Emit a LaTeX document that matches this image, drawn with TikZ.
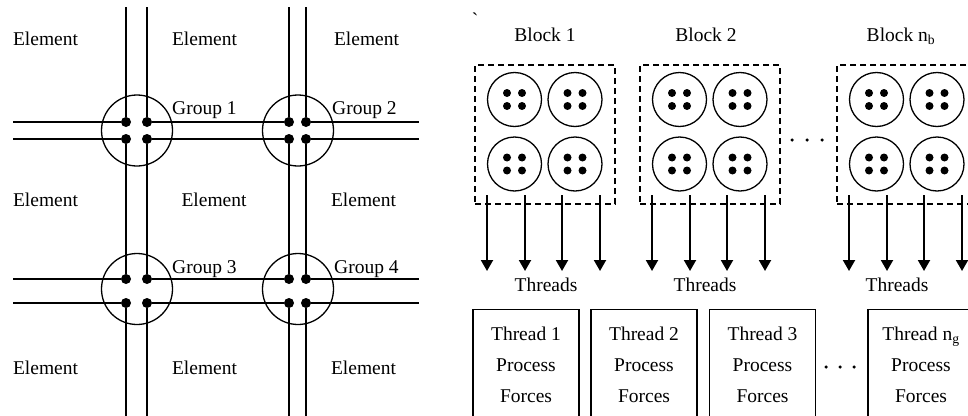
\documentclass[tikz,border=0pt]{standalone}
\usepackage{fontspec}
\setmainfont{Liberation Serif}
\usetikzlibrary{arrows.meta}
\begin{document}
\begin{tikzpicture}[x=1pt,y=-1pt,
  ln/.style={line width=1.3pt},
  jdot/.style={circle,fill,inner sep=0pt,minimum size=10pt},
  grp/.style={circle,draw,line width=1.3pt,inner sep=0pt,minimum size=71pt},
  lbl/.style={anchor=base,inner sep=0pt,font=\fontsize{19.5}{23}\selectfont},
  blk/.style={draw,line width=1.3pt,dash pattern=on 6pt off 4pt,inner sep=0pt,minimum width=140pt,minimum height=139pt},
  cell/.style={circle,draw,line width=1.3pt,inner sep=0pt,minimum size=54pt},
  sdot/.style={circle,fill,inner sep=0pt,minimum size=8pt},
  edot/.style={circle,fill,inner sep=0pt,minimum size=3.5pt},
  arr/.style={line width=2pt,-{Triangle[width=12pt,length=11pt]}},
  tbox/.style={draw,line width=1.3pt,inner sep=0pt,minimum width=106pt,minimum height=120pt,anchor=north}]
\useasboundingbox (0,0) rectangle (968,415);
\clip (0,0) rectangle (968,415);
% ---------- left: groups ----------
\node[grp] (G1) at (137,130.5) {};
\node[grp] (G2) at (298,130.5) {};
\node[grp] (G3) at (137,289) {};
\node[grp] (G4) at (298,289) {};
\foreach \g/\xa/\xb/\ya/\yb in {1/126/147/122/139,2/289/306/122/139,3/126/147/279/303,4/289/306/279/303} {
  \node[jdot] (g\g a) at (\xa,\ya) {};
  \node[jdot] (g\g b) at (\xb,\ya) {};
  \node[jdot] (g\g c) at (\xa,\yb) {};
  \node[jdot] (g\g d) at (\xb,\yb) {};
}
% free ends
\foreach \x/\n in {126/1,147/2,289/3,306/4} {
  \coordinate (top\n) at (\x,7);
  \coordinate (bot\n) at (\x,420);
}
\foreach \y/\n in {122/1,139/2,279/3,303/4} {
  \coordinate (lft\n) at (13,\y);
  \coordinate (rgt\n) at (419,\y);
}
% vertical lines
\draw[ln] (top1) -- (g1a) (g1c) -- (g3a) (g3c) -- (bot1);
\draw[ln] (top2) -- (g1b) (g1d) -- (g3b) (g3d) -- (bot2);
\draw[ln] (top3) -- (g2a) (g2c) -- (g4a) (g4c) -- (bot3);
\draw[ln] (top4) -- (g2b) (g2d) -- (g4b) (g4d) -- (bot4);
% horizontal lines
\draw[ln] (lft1) -- (g1a) (g1b) -- (g2a) (g2b) -- (rgt1);
\draw[ln] (lft2) -- (g1c) (g1d) -- (g2c) (g2d) -- (rgt2);
\draw[ln] (lft3) -- (g3a) (g3b) -- (g4a) (g4b) -- (rgt3);
\draw[ln] (lft4) -- (g3c) (g3d) -- (g4c) (g4d) -- (rgt4);
% labels
\node[lbl,anchor=base west] (lg1) at (172,114.5) {Group 1};
\node[lbl,anchor=base west] (lg2) at (332,114.5) {Group 2};
\node[lbl,anchor=base west] (lg3) at (172,273.5) {Group 3};
\node[lbl,anchor=base west] (lg4) at (334,273.5) {Group 4};
\node[lbl] (e11) at (45.5,45.5) {Element};
\node[lbl] (e12) at (204.5,45.5) {Element};
\node[lbl] (e13) at (366.5,45.5) {Element};
\node[lbl] (e21) at (45.5,206.5) {Element};
\node[lbl] (e22) at (214,206.5) {Element};
\node[lbl] (e23) at (363.5,206.5) {Element};
\node[lbl] (e31) at (45.5,374.5) {Element};
\node[lbl] (e32) at (204.5,374.5) {Element};
\node[lbl] (e33) at (363.5,374.5) {Element};
% ---------- right: blocks ----------
\node[lbl] (tick) at (475,26) {\textasciigrave};
\node[lbl] (bl1) at (545,41.5) {Block 1};
\node[lbl] (bl2) at (706,41.5) {Block 2};
\node[lbl] (bl3) at (901,41.5) {Block n\textsubscript{b}};
\foreach \L/\n in {475/1,640/2,837/3} {
  \node[blk] (blk\n) at (\L+70,134.5) {};
  \foreach \cx/\cy/\m in {39.5/99.5/a,100/99.5/b,39.5/164/c,100/164/d} {
    \node[cell] (c\n\m) at (\L+\cx,\cy) {};
    \node[sdot] (c\n\m p) at (\L+\cx-7.5,\cy-6.5) {};
    \node[sdot] (c\n\m q) at (\L+\cx+7.5,\cy-6.5) {};
    \node[sdot] (c\n\m r) at (\L+\cx-7.5,\cy+6.5) {};
    \node[sdot] (c\n\m s) at (\L+\cx+7.5,\cy+6.5) {};
  }
  \foreach \ax [count=\k] in {12,50,87,125} {
    \coordinate (as\n\k) at (\L+\ax,195);
    \coordinate (ae\n\k) at (\L+\ax,271);
    \draw[arr] (as\n\k) -- (ae\n\k);
  }
}
\node[edot] (bd1) at (792,140) {};
\node[edot] (bd2) at (807,140) {};
\node[edot] (bd3) at (822,140) {};
\node[lbl] (th1) at (546,291.5) {Threads};
\node[lbl] (th2) at (705,291.5) {Threads};
\node[lbl] (th3) at (897,291.5) {Threads};
% ---------- thread boxes ----------
\foreach \X/\n/\t in {526/1/Thread 1,644/2/Thread 2,762.5/3/Thread 3,921/4/Thread n\textsubscript{g}} {
  \node[tbox] (tb\n) at (\X,309) {};
  \node[lbl] (tt\n) at (\X,340) {\t};
  \node[lbl] (tp\n) at (\X,371) {Process};
  \node[lbl] (tf\n) at (\X,402) {Forces};
}
\node[edot] (td1) at (826,367) {};
\node[edot] (td2) at (840,367) {};
\node[edot] (td3) at (854,367) {};
\end{tikzpicture}
\end{document}
